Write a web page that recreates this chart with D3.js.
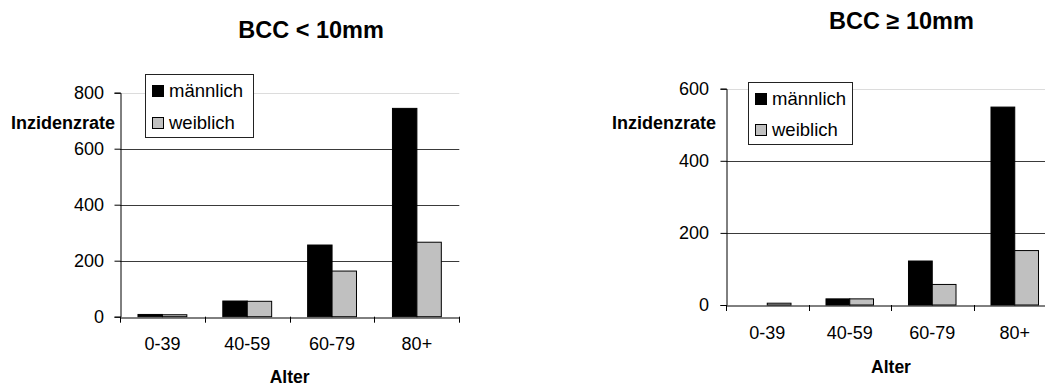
<!DOCTYPE html>
<html>
<head>
<meta charset="utf-8">
<script src="https://cdn.jsdelivr.net/npm/d3@7"></script>
<style>
  html, body { margin: 0; padding: 0; background: #fff; }
  svg { display: block; }
  text { font-family: Arial, "Liberation Sans", sans-serif; fill: #000; }
</style>
</head>
<body>
<svg id="chart" width="1045" height="387"></svg>
<script>
// ---- Data ----
const categories = ["0-39", "40-59", "60-79", "80+"];
const seriesNames = ["männlich", "weiblich"];
const smallMale = [8, 56, 256, 744];
const smallFemale = [7, 55, 163, 266];
const largeMale = [0, 17, 122, 549];
const largeFemale = [5, 17, 57, 151];
const smallTicks = [0, 200, 400, 600, 800];
const largeTicks = [0, 200, 400, 600];
const titles = ["BCC < 10mm", "BCC \u2265 10mm"];
const yTitle = "Inzidenzrate";
const xTitle = "Alter";

const colors = ["#000000", "#c0c0c0"];

const svg = d3.select("#chart");

function addText(g, x, y, str, opts) {
  const t = g.append("text")
    .attr("x", x).attr("y", y)
    .attr("text-anchor", opts.anchor || "start")
    .style("font-size", (opts.size || 18) + "px")
    .style("font-weight", opts.bold ? "bold" : "normal")
    .text(str);
  if (opts.dy) t.attr("dy", opts.dy);
  return t;
}

function drawChart(cfg) {
  const g = svg.append("g");
  const x = d3.scaleBand().domain(categories).range([cfg.x0, cfg.x1]).padding(0);
  const x1 = d3.scaleBand().domain(seriesNames)
    .range([x.bandwidth() * 0.212, x.bandwidth() * 0.788]).padding(0);
  const y = d3.scaleLinear().domain([0, d3.max(cfg.ticks)]).range([cfg.yBottom, cfg.yTop]);
  const maxTick = d3.max(cfg.ticks);

  // gridlines
  g.append("g").selectAll("line").data(cfg.ticks.filter(d => d > 0)).join("line")
    .attr("x1", cfg.x0).attr("x2", cfg.x1)
    .attr("y1", d => Math.round(y(d)) + 0.5).attr("y2", d => Math.round(y(d)) + 0.5)
    .attr("stroke", d => d === maxTick ? "#dcdcdc" : "#3a3a3a")
    .attr("stroke-width", 1);

  // bars
  const data = categories.map((c, i) => ({ c, vals: [cfg.male[i], cfg.female[i]] }));
  const grp = g.append("g").selectAll("g").data(data).join("g")
    .attr("transform", d => `translate(${x(d.c)},0)`);
  grp.selectAll("rect").data(d => d.vals.map((v, k) => ({ v, k }))).join("rect")
    .filter(d => d.v > 0)
    .attr("x", d => x1(seriesNames[d.k]))
    .attr("width", x1.bandwidth())
    .attr("y", d => y(d.v))
    .attr("height", d => y(0) - y(d.v))
    .attr("fill", d => colors[d.k])
    .attr("stroke", "#000")
    .attr("stroke-width", 1);

  // y axis
  const yAxis = g.append("g").attr("transform", `translate(${cfg.x0 + 0.5},0)`)
    .call(d3.axisLeft(y).tickValues(cfg.ticks).tickSize(6).tickPadding(0).tickFormat(() => ""));
  yAxis.select(".domain").attr("stroke", "#000");
  yAxis.selectAll(".tick line").attr("stroke", "#000");
  cfg.ticks.forEach(t => {
    addText(g, cfg.x0 - cfg.yLabelGap, y(t), String(t), { anchor: "end", size: 18, dy: "0.36em" });
  });

  // x axis
  const xAxis = g.append("g").attr("transform", `translate(0,${Math.round(cfg.yBottom) + 0.5})`)
    .call(d3.axisBottom(x).tickSize(0).tickFormat(() => ""));
  xAxis.select(".domain").attr("stroke", "#000");
  // category separator ticks
  const edges = categories.map(c => x(c)).concat([cfg.x1]);
  g.append("g").selectAll("line").data(edges).join("line")
    .attr("x1", d => Math.round(d) + 0.5).attr("x2", d => Math.round(d) + 0.5)
    .attr("y1", cfg.yBottom).attr("y2", cfg.yBottom + 6)
    .attr("stroke", "#000");
  categories.forEach(c => {
    addText(g, x(c) + x.bandwidth() / 2, cfg.xLabelY, c, { anchor: "middle", size: 18 });
  });

  // titles
  addText(g, cfg.titleX, cfg.titleY, cfg.title, { anchor: "middle", size: 23.5, bold: true });
  addText(g, (cfg.x0 + cfg.x1) / 2, cfg.xTitleY, xTitle, { anchor: "middle", size: 17.5, bold: true });
  addText(g, cfg.yTitleX, cfg.yTitleY, yTitle, { anchor: "start", size: 18, bold: true });

  // legend
  const L = cfg.legend;
  g.append("rect").attr("x", L.x + 0.5).attr("y", L.y + 0.5).attr("width", L.w).attr("height", L.h)
    .attr("fill", "#fff").attr("stroke", "#222").attr("stroke-width", 1);
  seriesNames.forEach((s, k) => {
    const ry = L.y + L.firstRow + k * L.rowGap;
    g.append("rect").attr("x", L.x + 7.5).attr("y", ry - 11.5).attr("width", 11).attr("height", 11)
      .attr("fill", colors[k]).attr("stroke", "#000").attr("stroke-width", 1);
    addText(g, L.x + 24, ry, s, { anchor: "start", size: 18.5 });
  });
}

drawChart({
  x0: 120, x1: 459.3, yTop: 92.7, yBottom: 316.7,
  ticks: smallTicks, male: smallMale, female: smallFemale,
  title: titles[0], titleX: 311, titleY: 38,
  xLabelY: 350, xTitleY: 382.5, yLabelGap: 16,
  yTitleX: 11, yTitleY: 129,
  legend: { x: 145, y: 74, w: 108, h: 63, firstRow: 23, rowGap: 32 }
});

drawChart({
  x0: 726, x1: 1056, yTop: 88.7, yBottom: 305,
  ticks: largeTicks, male: largeMale, female: largeFemale,
  title: titles[1], titleX: 901.5, titleY: 29,
  xLabelY: 339, xTitleY: 372.5, yLabelGap: 17,
  yTitleX: 612, yTitleY: 128.5,
  legend: { x: 748, y: 82, w: 104, h: 62, firstRow: 23, rowGap: 31 }
});
</script>
</body>
</html>
